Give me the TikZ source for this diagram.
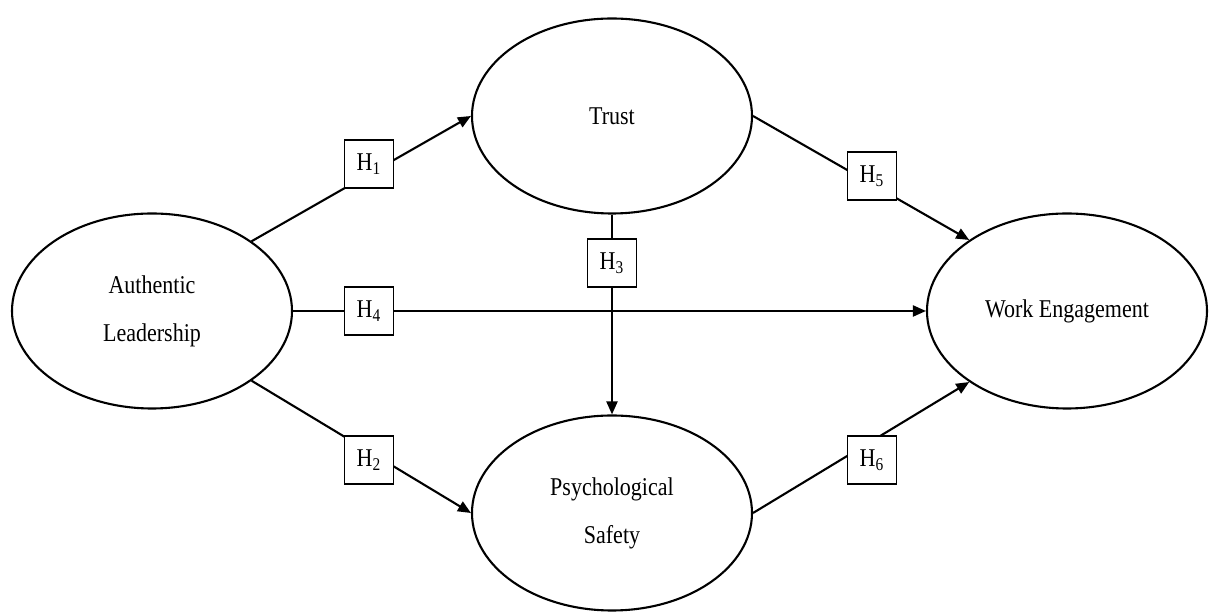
\documentclass[tikz,border=0pt]{standalone}
\usepackage{fontspec}
\setmainfont[FakeStretch=0.86]{Liberation Serif}
\usetikzlibrary{shapes.geometric,arrows.meta}
\begin{document}
\begin{tikzpicture}[x=0.5pt,y=0.5pt,line width=1.05pt,>={Triangle[length=6.5pt,width=5.5pt]},main node/.style={ellipse,draw,line width=1.05pt,minimum width=140pt,minimum height=97.5pt,inner sep=0pt,align=center,font=\fontsize{12.8}{24}\selectfont}, hyp node/.style={rectangle,draw,fill=white,line width=0.8pt,minimum width=24.5pt,minimum height=24pt,inner sep=0pt,font=\fontsize{12.8}{15}\selectfont}]
\useasboundingbox (0,0) rectangle (1212,615);
\node[main node] (al) at (152,304) {Authentic\\Leadership};
\node[main node] (trust) at (612,499) {Trust};
\node[main node] (ps) at (612,102) {Psychological\\Safety};
\node[main node] (we) at (1067,304) {Work Engagement};


 \path[->]
(al.35) edge (trust.west)
(al.-35) edge (ps.west)
(al.east) edge (we.west)
(trust.south) edge (ps.north)
(trust.east) edge (we.144)
(ps.east) edge (we.216);

\node[hyp node] (h1) at (369,451) {H\textsubscript{1}};
\node[hyp node] (h2) at (369,155) {H\textsubscript{2}};
\node[hyp node] (h3) at (612,352) {H\textsubscript{3}};
\node[hyp node] (h4) at (369,304) {H\textsubscript{4}};
\node[hyp node] (h5) at (872,439) {H\textsubscript{5}};
\node[hyp node] (h6) at (872,155) {H\textsubscript{6}};

\end{tikzpicture}
\end{document}
